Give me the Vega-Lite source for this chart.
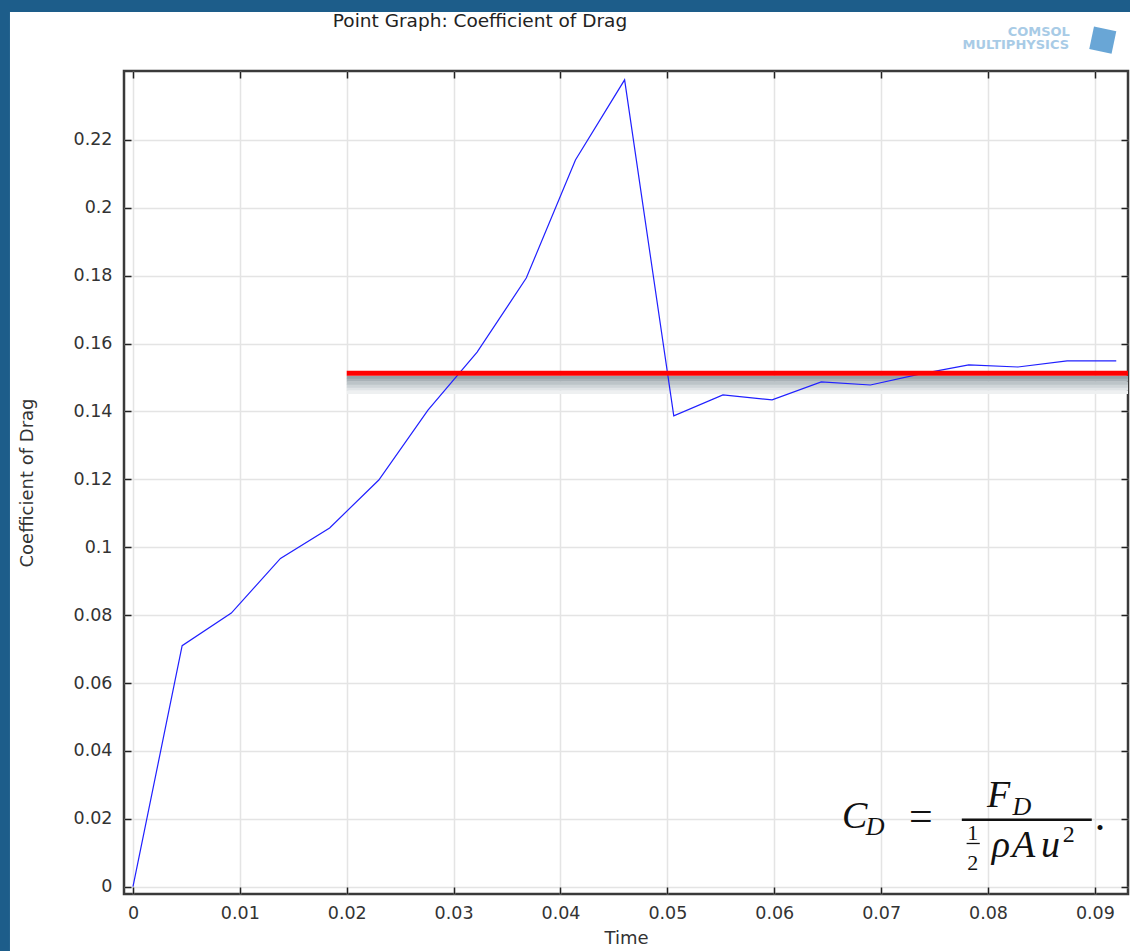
{
  "$schema": "https://vega.github.io/schema/vega-lite/v6.json",
  "width": 1004,
  "height": 823,
  "autosize": {"type": "none"},
  "padding": {"left": 124, "top": 71, "right": 2, "bottom": 57},
  "background": "white",
  "config": {
    "view": {"stroke": "#3a3a3a", "strokeWidth": 2.5, "fill": "white"},
    "axis": {
      "labelFont": "DejaVu Sans", "labelFontSize": 17.5, "labelColor": "#333",
      "titleFont": "DejaVu Sans", "titleFontSize": 18, "titleFontWeight": "normal", "titleColor": "#333",
      "gridColor": "#e4e4e4", "gridWidth": 1.5,
      "tickColor": "#222", "tickWidth": 1.5, "tickSize": -7,
      "domain": false, "labelFlush": false
    }
  },
  "resolve": {"axis": {"x": "independent", "y": "independent"}},
  "layer": [
    {
      "data": {"values": [{"x0": -0.02, "x1": -0.01151, "y0": -0.1, "y1": 0.3}, {"x0": -0.02, "x1": 0.12, "y0": 0.2577, "y1": 0.3}]},
      "mark": {"type": "rect", "color": "#1d5d8a"},
      "encoding": {
        "x": {"field": "x0", "type": "quantitative", "axis": null, "scale": {"domain": [-0.00084, 0.0931], "nice": false, "zero": false}},
        "x2": {"field": "x1"},
        "y": {"field": "y0", "type": "quantitative", "axis": null, "scale": {"domain": [-0.00215, 0.2403], "nice": false, "zero": false}},
        "y2": {"field": "y1"}
      }
    },
    {
      "data": {"values": [{"t": 0.03247, "v": 0.25327, "label": "Point Graph: Coefficient of Drag"}]},
      "mark": {"type": "text", "font": "DejaVu Sans", "fontSize": 18.5, "align": "center", "baseline": "alphabetic", "color": "#222"},
      "encoding": {
        "x": {"field": "t", "type": "quantitative", "axis": null, "scale": {"domain": [-0.00084, 0.0931], "nice": false, "zero": false}},
        "y": {"field": "v", "type": "quantitative", "axis": null, "scale": {"domain": [-0.00215, 0.2403], "nice": false, "zero": false}},
        "text": {"field": "label"}
      }
    },
    {
      "data": {"values": [
        {"v": 0.15007, "c": "#97a2a8"},
        {"v": 0.14919, "c": "#a9b2b7"},
        {"v": 0.14830, "c": "#bcc4c8"},
        {"v": 0.14742, "c": "#cfd5d8"},
        {"v": 0.14654, "c": "#e0e4e6"},
        {"v": 0.14565, "c": "#eef0f1"}
      ]},
      "mark": {"type": "rule", "strokeWidth": 3.2},
      "encoding": {
        "x": {"datum": 0.02, "type": "quantitative", "axis": null, "scale": {"domain": [-0.00084, 0.0931], "nice": false, "zero": false}},
        "x2": {"datum": 0.0931},
        "y": {"field": "v", "type": "quantitative", "axis": null, "scale": {"domain": [-0.00215, 0.2403], "nice": false, "zero": false}},
        "color": {"field": "c", "type": "nominal", "scale": null, "legend": null}
      }
    },
    {
      "data": {"values": [
        {"Time": 0, "Cd": 0},
        {"Time": 0.0046, "Cd": 0.0710},
        {"Time": 0.0092, "Cd": 0.0806},
        {"Time": 0.0138, "Cd": 0.0967},
        {"Time": 0.0184, "Cd": 0.1057},
        {"Time": 0.0230, "Cd": 0.1198},
        {"Time": 0.0276, "Cd": 0.1404},
        {"Time": 0.0322, "Cd": 0.1575},
        {"Time": 0.0368, "Cd": 0.1793},
        {"Time": 0.0414, "Cd": 0.2141},
        {"Time": 0.0460, "Cd": 0.2377},
        {"Time": 0.0506, "Cd": 0.1387},
        {"Time": 0.0552, "Cd": 0.1449},
        {"Time": 0.0598, "Cd": 0.1434},
        {"Time": 0.0644, "Cd": 0.1487},
        {"Time": 0.0690, "Cd": 0.1478},
        {"Time": 0.0736, "Cd": 0.1510},
        {"Time": 0.0782, "Cd": 0.1537},
        {"Time": 0.0828, "Cd": 0.1531},
        {"Time": 0.0874, "Cd": 0.1549},
        {"Time": 0.0920, "Cd": 0.1549}
      ]},
      "mark": {"type": "line", "color": "#2020ff", "strokeWidth": 1.2},
      "encoding": {
        "x": {
          "field": "Time", "type": "quantitative",
          "scale": {"domain": [-0.00084, 0.0931], "nice": false, "zero": false},
          "axis": {"orient": "bottom", "title": "Time", "grid": true, "values": [0, 0.01, 0.02, 0.03, 0.04, 0.05, 0.06, 0.07, 0.08, 0.09], "format": "~g", "labelPadding": 17, "titleX": 502, "titleY": 49, "titleBaseline": "alphabetic"}
        },
        "y": {
          "field": "Cd", "type": "quantitative",
          "scale": {"domain": [-0.00215, 0.2403], "nice": false, "zero": false},
          "axis": {"orient": "left", "title": "Coefficient of Drag", "grid": true, "values": [0, 0.02, 0.04, 0.06, 0.08, 0.1, 0.12, 0.14, 0.16, 0.18, 0.2, 0.22], "format": "~g", "labelPadding": 19, "titleX": -92, "titleY": 411.5, "titleBaseline": "alphabetic", "titleAngle": -90}
        }
      }
    },
    {
      "data": {"values": [{"level": 0.15125}]},
      "mark": {"type": "rule", "color": "#ff0000", "strokeWidth": 5},
      "encoding": {
        "x": {
          "datum": 0.02, "type": "quantitative",
          "scale": {"domain": [-0.00084, 0.0931], "nice": false, "zero": false},
          "axis": {"orient": "top", "title": null, "labels": false, "grid": false, "values": [0, 0.01, 0.02, 0.03, 0.04, 0.05, 0.06, 0.07, 0.08, 0.09]}
        },
        "x2": {"datum": 0.0931},
        "y": {
          "field": "level", "type": "quantitative",
          "scale": {"domain": [-0.00215, 0.2403], "nice": false, "zero": false},
          "axis": {"orient": "right", "title": null, "labels": false, "grid": false, "values": [0, 0.02, 0.04, 0.06, 0.08, 0.1, 0.12, 0.14, 0.16, 0.18, 0.2, 0.22]}
        }
      }
    },
    {
      "data": {"values": [
        {"t": 0.07755, "t2": 0.08971, "v": 0.01971, "w": "bar"},
        {"t": 0.0780, "t2": 0.07923, "v": 0.01273, "w": "half"}
      ]},
      "mark": {"type": "rule", "color": "#111"},
      "encoding": {
        "x": {"field": "t", "type": "quantitative", "axis": null, "scale": {"domain": [-0.00084, 0.0931], "nice": false, "zero": false}},
        "x2": {"field": "t2"},
        "y": {"field": "v", "type": "quantitative", "axis": null, "scale": {"domain": [-0.00215, 0.2403], "nice": false, "zero": false}},
        "strokeWidth": {"field": "w", "type": "nominal", "scale": {"domain": ["bar", "half"], "range": [2.5, 1.3]}, "legend": null}
      }
    },
    {
      "data": {"values": [
        {"t": 0.06633, "v": 0.01728, "label": "C"},
        {"t": 0.0799, "v": 0.02354, "label": "F"},
        {"t": 0.08035, "v": 0.00875, "label": "ρ"},
        {"t": 0.08225, "v": 0.00875, "label": "A"},
        {"t": 0.08495, "v": 0.00875, "label": "u"}
      ]},
      "mark": {"type": "text", "font": "Liberation Serif", "fontStyle": "italic", "fontSize": 38, "align": "left", "baseline": "alphabetic", "color": "#111"},
      "encoding": {
        "x": {"field": "t", "type": "quantitative", "axis": null, "scale": {"domain": [-0.00084, 0.0931], "nice": false, "zero": false}},
        "y": {"field": "v", "type": "quantitative", "axis": null, "scale": {"domain": [-0.00215, 0.2403], "nice": false, "zero": false}},
        "text": {"field": "label"}
      }
    },
    {
      "data": {"values": [
        {"t": 0.06857, "v": 0.01528, "label": "D"},
        {"t": 0.0823, "v": 0.02122, "label": "D"}
      ]},
      "mark": {"type": "text", "font": "Liberation Serif", "fontStyle": "italic", "fontSize": 26, "align": "left", "baseline": "alphabetic", "color": "#111"},
      "encoding": {
        "x": {"field": "t", "type": "quantitative", "axis": null, "scale": {"domain": [-0.00084, 0.0931], "nice": false, "zero": false}},
        "y": {"field": "v", "type": "quantitative", "axis": null, "scale": {"domain": [-0.00215, 0.2403], "nice": false, "zero": false}},
        "text": {"field": "label"}
      }
    },
    {
      "data": {"values": [
        {"t": 0.0726, "v": 0.0167, "label": "="},
        {"t": 0.0900, "v": 0.0167, "label": "."}
      ]},
      "mark": {"type": "text", "font": "Liberation Serif", "fontSize": 42, "align": "left", "baseline": "alphabetic", "color": "#111"},
      "encoding": {
        "x": {"field": "t", "type": "quantitative", "axis": null, "scale": {"domain": [-0.00084, 0.0931], "nice": false, "zero": false}},
        "y": {"field": "v", "type": "quantitative", "axis": null, "scale": {"domain": [-0.00215, 0.2403], "nice": false, "zero": false}},
        "text": {"field": "label"}
      }
    },
    {
      "data": {"values": [
        {"t": 0.07858, "v": 0.01378, "label": "1"},
        {"t": 0.07858, "v": 0.00492, "label": "2"}
      ]},
      "mark": {"type": "text", "font": "Liberation Serif", "fontSize": 22, "align": "center", "baseline": "alphabetic", "color": "#111"},
      "encoding": {
        "x": {"field": "t", "type": "quantitative", "axis": null, "scale": {"domain": [-0.00084, 0.0931], "nice": false, "zero": false}},
        "y": {"field": "v", "type": "quantitative", "axis": null, "scale": {"domain": [-0.00215, 0.2403], "nice": false, "zero": false}},
        "text": {"field": "label"}
      }
    },
    {
      "data": {"values": [
        {"t": 0.0870, "v": 0.01317, "label": "2"}
      ]},
      "mark": {"type": "text", "font": "Liberation Serif", "fontSize": 24, "align": "left", "baseline": "alphabetic", "color": "#111"},
      "encoding": {
        "x": {"field": "t", "type": "quantitative", "axis": null, "scale": {"domain": [-0.00084, 0.0931], "nice": false, "zero": false}},
        "y": {"field": "v", "type": "quantitative", "axis": null, "scale": {"domain": [-0.00215, 0.2403], "nice": false, "zero": false}},
        "text": {"field": "label"}
      }
    },
    {
      "data": {"values": [
        {"t": 0.08475, "v": 0.2506, "label": "COMSOL"},
        {"t": 0.0826, "v": 0.2468, "label": "MULTIPHYSICS"}
      ]},
      "mark": {"type": "text", "font": "DejaVu Sans", "fontSize": 13, "fontWeight": "bold", "align": "center", "baseline": "alphabetic", "color": "#a8cbe6"},
      "encoding": {
        "x": {"field": "t", "type": "quantitative", "axis": null, "scale": {"domain": [-0.00084, 0.0931], "nice": false, "zero": false}},
        "y": {"field": "v", "type": "quantitative", "axis": null, "scale": {"domain": [-0.00215, 0.2403], "nice": false, "zero": false}},
        "text": {"field": "label"}
      }
    },
    {
      "data": {"values": [{"t": 0.09074, "v": 0.2494}]},
      "mark": {"type": "point", "shape": "square", "filled": true, "size": 520, "color": "#4f97cf", "opacity": 0.85, "angle": 12},
      "encoding": {
        "x": {"field": "t", "type": "quantitative", "axis": null, "scale": {"domain": [-0.00084, 0.0931], "nice": false, "zero": false}},
        "y": {"field": "v", "type": "quantitative", "axis": null, "scale": {"domain": [-0.00215, 0.2403], "nice": false, "zero": false}}
      }
    }
  ]
}
